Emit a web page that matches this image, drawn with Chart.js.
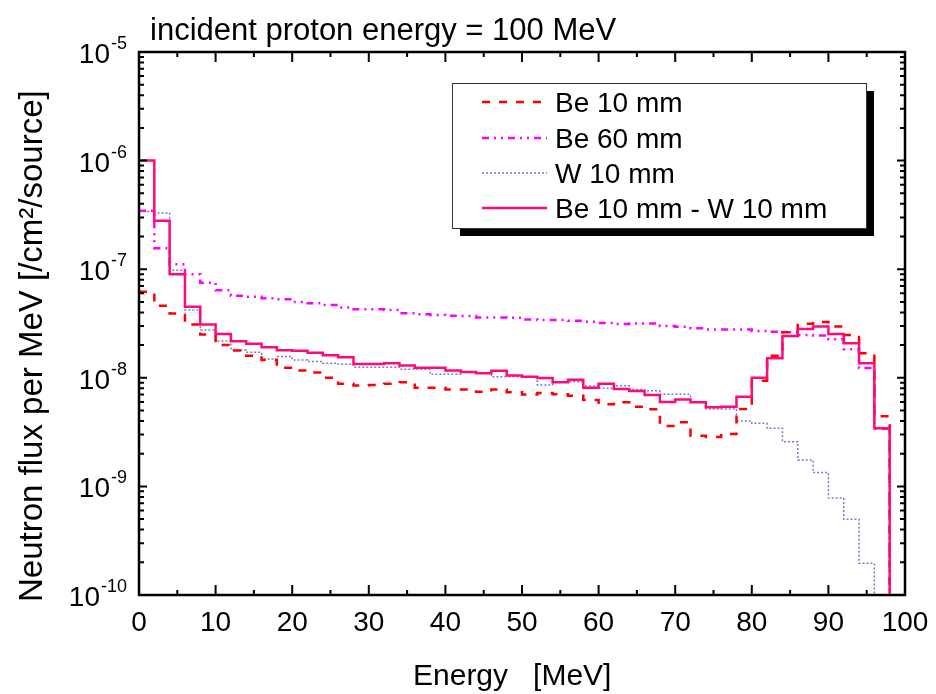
<!DOCTYPE html>
<html>
<head>
<meta charset="utf-8">
<title>Neutron flux, incident proton energy = 100 MeV</title>
<script src="https://cdn.jsdelivr.net/npm/chart.js@4.4.1/dist/chart.umd.min.js"></script>
<style>
    html, body { margin: 0; padding: 0; background: #ffffff; }
    #wrap { width: 936px; height: 694px; }
</style>
</head>
<body>
<div id="wrap"><canvas id="flux" width="936" height="694"></canvas></div>
<script>
'use strict';

// energy bins, 2 MeV wide (left edges)
var binStart = [0, 2, 4, 6, 8, 10, 12, 14, 16, 18, 20, 22, 24, 26, 28, 30, 32, 34, 36, 38,
    40, 42, 44, 46, 48, 50, 52, 54, 56, 58, 60, 62, 64, 66, 68, 70, 72, 74, 76, 78,
    80, 82, 84, 86, 88, 90, 92, 94, 96, 98];
var binWidth = 2;

var be10 = [6.2e-8, 4.6e-8, 3.9e-8, 3.1e-8, 2.5e-8, 2.0e-8, 1.78e-8, 1.6e-8, 1.46e-8, 1.24e-8,
    1.17e-8, 1.12e-8, 1.0e-8, 8.8e-9, 8.5e-9, 8.6e-9, 8.8e-9, 9.1e-9, 8.1e-9, 8.1e-9,
    7.8e-9, 7.8e-9, 7.45e-9, 7.8e-9, 7.35e-9, 7.0e-9, 7.25e-9, 7.05e-9, 6.85e-9, 6.25e-9,
    5.7e-9, 5.95e-9, 5.42e-9, 5.13e-9, 3.6e-9, 3.9e-9, 2.93e-9, 2.85e-9, 3.04e-9, 5.16e-9,
    9.4e-9, 1.6e-8, 2.62e-8, 3.15e-8, 3.27e-8, 2.96e-8, 2.48e-8, 1.68e-8, 4.42e-9, 1e-12];

var be60 = [3.46e-7, 1.56e-7, 1.11e-7, 9.0e-8, 7.5e-8, 6.4e-8, 5.7e-8, 5.58e-8, 5.4e-8, 5.3e-8,
    5.0e-8, 4.85e-8, 4.68e-8, 4.45e-8, 4.27e-8, 4.27e-8, 4.2e-8, 3.93e-8, 3.85e-8, 3.79e-8,
    3.72e-8, 3.7e-8, 3.6e-8, 3.6e-8, 3.58e-8, 3.45e-8, 3.4e-8, 3.4e-8, 3.35e-8, 3.29e-8,
    3.2e-8, 3.13e-8, 3.17e-8, 3.17e-8, 3.0e-8, 2.95e-8, 2.86e-8, 2.79e-8, 2.79e-8, 2.79e-8,
    2.7e-8, 2.66e-8, 2.62e-8, 2.48e-8, 2.45e-8, 2.26e-8, 1.83e-8, 1.23e-8, 3.4e-9, 1e-12];

var w10 = [3.4e-7, 3.3e-7, 9.8e-8, 4.2e-8, 2.75e-8, 2.18e-8, 1.8e-8, 1.72e-8, 1.49e-8, 1.57e-8,
    1.46e-8, 1.41e-8, 1.36e-8, 1.33e-8, 1.25e-8, 1.25e-8, 1.25e-8, 1.2e-8, 1.2e-8, 1.08e-8,
    1.08e-8, 1.13e-8, 1.10e-8, 1.02e-8, 1.02e-8, 1.02e-8, 8.6e-9, 9.2e-9, 9.2e-9, 8.4e-9,
    8.0e-9, 8.45e-9, 7.8e-9, 7.6e-9, 7.05e-9, 7.05e-9, 6.0e-9, 5.16e-9, 5.16e-9, 4.0e-9,
    3.81e-9, 3.43e-9, 2.58e-9, 1.75e-9, 1.34e-9, 7.8e-10, 4.98e-10, 1.96e-10, 1e-12, 1e-12];

var be10w10 = [1.0e-6, 2.8e-7, 9.0e-8, 4.5e-8, 3.1e-8, 2.53e-8, 2.17e-8, 2.06e-8, 1.91e-8, 1.79e-8,
    1.77e-8, 1.70e-8, 1.61e-8, 1.55e-8, 1.34e-8, 1.34e-8, 1.36e-8, 1.30e-8, 1.24e-8, 1.24e-8,
    1.17e-8, 1.13e-8, 1.10e-8, 1.16e-8, 1.05e-8, 1.02e-8, 9.95e-9, 9.1e-9, 9.6e-9, 8.1e-9,
    8.8e-9, 7.9e-9, 7.55e-9, 6.95e-9, 6.0e-9, 6.3e-9, 5.95e-9, 5.35e-9, 5.4e-9, 6.7e-9,
    1.0e-8, 1.51e-8, 2.43e-8, 2.81e-8, 2.96e-8, 2.53e-8, 2.08e-8, 1.36e-8, 3.43e-9, 1e-12];

var seriesLabels = ['Be 10 mm', 'Be 60 mm', 'W 10 mm', 'Be 10 mm - W 10 mm'];
var xTicks = [0, 10, 20, 30, 40, 50, 60, 70, 80, 90, 100];
var xMinorTicks = [5, 15, 25, 35, 45, 55, 65, 75, 85, 95];
var yDecades = [-10, -9, -8, -7, -6, -5];

var FONT = '"Liberation Sans", Arial, Helvetica, sans-serif';

// one point per bin edge; 'before' stepping holds each bin's value over its width
function steps(values) {
    var pts = binStart.map(function (x, i) { return { x: x, y: values[i] }; });
    var last = binStart.length - 1;
    pts.push({ x: binStart[last] + binWidth, y: values[last] });
    return pts;
}

// frame, inward ticks, tick labels, titles and boxed legend
var decorPlugin = {
    id: 'decor',
    afterDatasetsDraw: function (chart) {
        var ctx = chart.ctx;
        var a = chart.chartArea;
        var xs = chart.scales.x;
        var ys = chart.scales.y;

        ctx.save();
        ctx.strokeStyle = '#000';
        ctx.lineWidth = 2.5;
        ctx.strokeRect(a.left, a.top, a.right - a.left, a.bottom - a.top);

        ctx.beginPath();
        xTicks.forEach(function (v) {
            var px = xs.getPixelForValue(v);
            ctx.moveTo(px, a.bottom); ctx.lineTo(px, a.bottom - 10);
            ctx.moveTo(px, a.top); ctx.lineTo(px, a.top + 10);
        });
        xMinorTicks.forEach(function (v) {
            var px = xs.getPixelForValue(v);
            ctx.moveTo(px, a.bottom); ctx.lineTo(px, a.bottom - 5);
            ctx.moveTo(px, a.top); ctx.lineTo(px, a.top + 5);
        });
        yDecades.forEach(function (d) {
            var py = ys.getPixelForValue(Math.pow(10, d));
            ctx.moveTo(a.left, py); ctx.lineTo(a.left + 8, py);
            ctx.moveTo(a.right, py); ctx.lineTo(a.right - 8, py);
            if (d < -5) {
                for (var m = 2; m <= 9; m++) {
                    var pm = ys.getPixelForValue(m * Math.pow(10, d));
                    ctx.moveTo(a.left, pm); ctx.lineTo(a.left + 5, pm);
                    ctx.moveTo(a.right, pm); ctx.lineTo(a.right - 5, pm);
                }
            }
        });
        ctx.lineWidth = 2;
        ctx.stroke();

        // tick labels
        ctx.fillStyle = '#000';
        ctx.font = '28px ' + FONT;
        ctx.textAlign = 'center';
        ctx.textBaseline = 'alphabetic';
        xTicks.forEach(function (v) {
            ctx.fillText(String(v), xs.getPixelForValue(v), a.bottom + 36);
        });
        yDecades.forEach(function (d) {
            var py = ys.getPixelForValue(Math.pow(10, d));
            ctx.font = '18px ' + FONT;
            var sup = String(d);
            var sw = ctx.measureText(sup).width;
            ctx.textAlign = 'left';
            ctx.fillText(sup, 127 - sw, py - 3);
            ctx.font = '28px ' + FONT;
            ctx.textAlign = 'right';
            ctx.fillText('10', 127 - sw - 1, py + 11);
        });

        // titles
        ctx.textAlign = 'left';
        ctx.font = '31px ' + FONT;
        ctx.fillText('incident proton energy = 100 MeV', 150, 40);
        ctx.font = '30px ' + FONT;
        ctx.fillText('Energy   [MeV]', 413, 685);
        ctx.save();
        ctx.translate(42, 602);
        ctx.rotate(-Math.PI / 2);
        ctx.font = '33px ' + FONT;
        ctx.fillText('Neutron flux per MeV [/cm\u00b2/source]', 0, 0);
        ctx.restore();

        // legend box with drop shadow
        var bx = 452, by = 83, bw = 414, bh = 145;
        ctx.fillStyle = '#000';
        ctx.fillRect(bx + 8, by + 8, bw, bh);
        ctx.fillStyle = '#fff';
        ctx.fillRect(bx, by, bw, bh);
        ctx.strokeStyle = '#333';
        ctx.lineWidth = 1;
        ctx.strokeRect(bx + 0.5, by + 0.5, bw, bh);

        var rows = [102, 138, 173, 208];
        chart.data.datasets.forEach(function (ds, i) {
            var ry = rows[i];
            ctx.beginPath();
            ctx.setLineDash(ds.borderDash || []);
            ctx.strokeStyle = ds.borderColor;
            ctx.lineWidth = ds.borderWidth;
            ctx.moveTo(482, ry);
            ctx.lineTo(547, ry);
            ctx.stroke();
            ctx.setLineDash([]);
            ctx.fillStyle = '#000';
            ctx.font = '28px ' + FONT;
            ctx.fillText(ds.label, 555, ry + 10);
        });
        ctx.restore();
    }
};

new Chart(document.getElementById('flux'), {
    type: 'line',
    data: {
        datasets: [
            {
                label: seriesLabels[0],
                data: steps(be10),
                borderColor: '#ff0000',
                borderWidth: 2.5,
                borderDash: [8, 9],
                order: 1
            },
            {
                label: seriesLabels[1],
                data: steps(be60),
                borderColor: '#ff00ff',
                borderWidth: 2.5,
                borderDash: [7, 5, 2, 5, 2, 5],
                order: 2
            },
            {
                label: seriesLabels[2],
                data: steps(w10),
                borderColor: '#7b7bcc',
                borderWidth: 1.5,
                borderDash: [2, 2],
                order: 3
            },
            {
                label: seriesLabels[3],
                data: steps(be10w10),
                borderColor: '#ff0a78',
                borderWidth: 2.5,
                borderDash: [],
                order: 0
            }
        ]
    },
    options: {
        responsive: false,
        animation: false,
        devicePixelRatio: 1,
        layout: { padding: { left: 0, top: 52, right: 31, bottom: 0 } },
        elements: {
            point: { radius: 0 },
            line: { stepped: 'before', fill: false, tension: 0 }
        },
        plugins: {
            legend: { display: false },
            tooltip: { enabled: false }
        },
        scales: {
            x: {
                type: 'linear',
                min: 0,
                max: 100,
                grid: { display: false },
                border: { display: false },
                ticks: { display: false },
                afterFit: function (s) { s.height = 99; }
            },
            y: {
                type: 'logarithmic',
                min: 1e-10,
                max: 1e-5,
                grid: { display: false },
                border: { display: false },
                ticks: { display: false },
                afterFit: function (s) { s.width = 139; }
            }
        }
    },
    plugins: [decorPlugin]
});
</script>
</body>
</html>
